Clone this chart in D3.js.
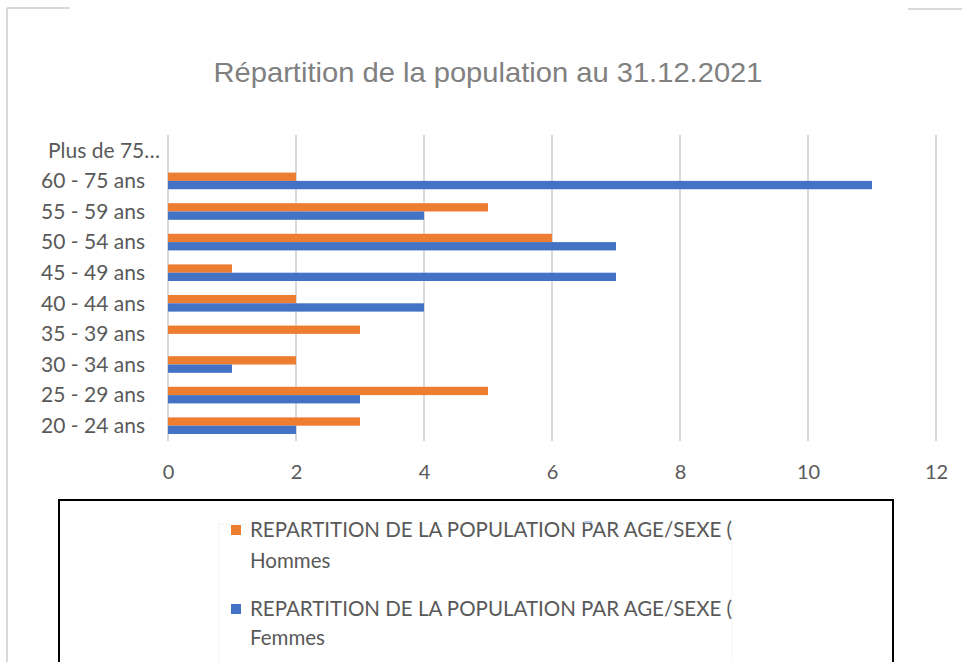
<!DOCTYPE html>
<html><head><meta charset="utf-8">
<script src="https://cdn.jsdelivr.net/npm/d3@7"></script>
<style>body{margin:0;background:#fff}svg{display:block}</style>
</head><body>
<svg id="c" width="962" height="662"></svg>
<script>
const categories = ["20 - 24 ans","25 - 29 ans","30 - 34 ans","35 - 39 ans","40 - 44 ans","45 - 49 ans","50 - 54 ans","55 - 59 ans","60 - 75 ans","Plus de 75…"];
const hommes = [3,5,2,3,2,1,6,5,2,0];
const femmes = [2,3,1,0,4,7,7,4,11,0];
const seriesNames = ["Hommes","Femmes"];
const seriesColors = ["#ED7D31","#4472C4"];
const xTicks = [0,2,4,6,8,10,12];
const title = "Répartition de la population au 31.12.2021";
const legendLabel = "REPARTITION DE LA POPULATION PAR AGE/SEXE (";

const svg = d3.select("#c");
const font = "Lato, 'Noto Sans', sans-serif";

// outer frame fragments
svg.append("path").attr("d","M7,8H70M7,8V662").attr("fill","none").attr("stroke","#d9d9d9").attr("stroke-width",2);
svg.append("path").attr("d","M908,9H962").attr("fill","none").attr("stroke","#d9d9d9").attr("stroke-width",2);

svg.append("text").attr("x",488).attr("y",82).attr("text-anchor","middle")
  .attr("font-family","'Liberation Sans', Arial, sans-serif").attr("font-size",28.5).attr("fill","#808080")
  .attr("textLength",549).attr("lengthAdjust","spacingAndGlyphs").text(title);

const x = d3.scaleLinear().domain([0,12]).range([168,936]);
const y = d3.scaleBand().domain(categories.slice().reverse()).range([135,441]);
const ySub = d3.scaleBand().domain(seriesNames).range([0,y.bandwidth()]).paddingInner(0).paddingOuter(0.84);

// gridlines
svg.append("g").selectAll("line").data(xTicks).join("line")
  .attr("x1",d=>x(d)).attr("x2",d=>x(d)).attr("y1",135).attr("y2",441)
  .attr("stroke","#d9d9d9").attr("stroke-width",2);

// bars
const rows = categories.map((c,i)=>({cat:c, vals:[hommes[i], femmes[i]]}));
const g = svg.append("g");
rows.forEach(r=>{
  r.vals.forEach((v,j)=>{
    if(v<=0) return;
    g.append("rect").attr("x",x(0)).attr("y",y(r.cat)+ySub(seriesNames[j]))
      .attr("width",x(v)-x(0)).attr("height",ySub.bandwidth()).attr("fill",seriesColors[j]);
  });
});

// x axis labels
const xa = svg.append("g").attr("transform","translate(0,441)")
  .call(d3.axisBottom(x).tickValues(xTicks).tickSize(0).tickPadding(0));
xa.select(".domain").remove();
xa.selectAll("text").attr("dy",null).attr("y",38).attr("font-family",font).attr("font-size",20).attr("fill","#595959");

// y axis labels
const ya = svg.append("g").attr("transform","translate(168,0)")
  .call(d3.axisLeft(y).tickSize(0).tickPadding(0));
ya.select(".domain").remove();
ya.selectAll("text").attr("x",d=>d.endsWith("…")?-8:-23).attr("dy","0.35em")
  .attr("font-family",font).attr("font-size",21).attr("fill","#595959");

// legend box
svg.append("rect").attr("x",59).attr("y",500).attr("width",834).attr("height",180)
  .attr("fill","#fff").attr("stroke","#000").attr("stroke-width",2);
svg.append("rect").attr("x",219).attr("y",524).attr("width",513).attr("height",140)
  .attr("fill","#fff").attr("stroke","#f4f4f4").attr("stroke-width",1);
svg.append("defs").append("clipPath").attr("id","lc").append("rect").attr("x",219).attr("y",520).attr("width",513).attr("height",150);
const lg = svg.append("g").attr("clip-path","url(#lc)");
const legRows = [{y:530, sub:561},{y:609, sub:638}];
seriesNames.forEach((n,i)=>{
  lg.append("rect").attr("x",231).attr("y",legRows[i].y-5).attr("width",10).attr("height",10).attr("fill",seriesColors[i]);
  lg.append("text").attr("x",250).attr("y",legRows[i].y).attr("dy","0.35em").attr("font-family",font)
    .attr("font-size",20.5).attr("fill","#595959").text(legendLabel);
  lg.append("text").attr("x",250).attr("y",legRows[i].sub).attr("dy","0.35em").attr("font-family",font)
    .attr("font-size",20.5).attr("fill","#595959").text(n);
});
svg.append("rect").attr("x",584).attr("y",521).attr("width",8).attr("height",2).attr("fill","#b4c7e7");
</script>
</body></html>
